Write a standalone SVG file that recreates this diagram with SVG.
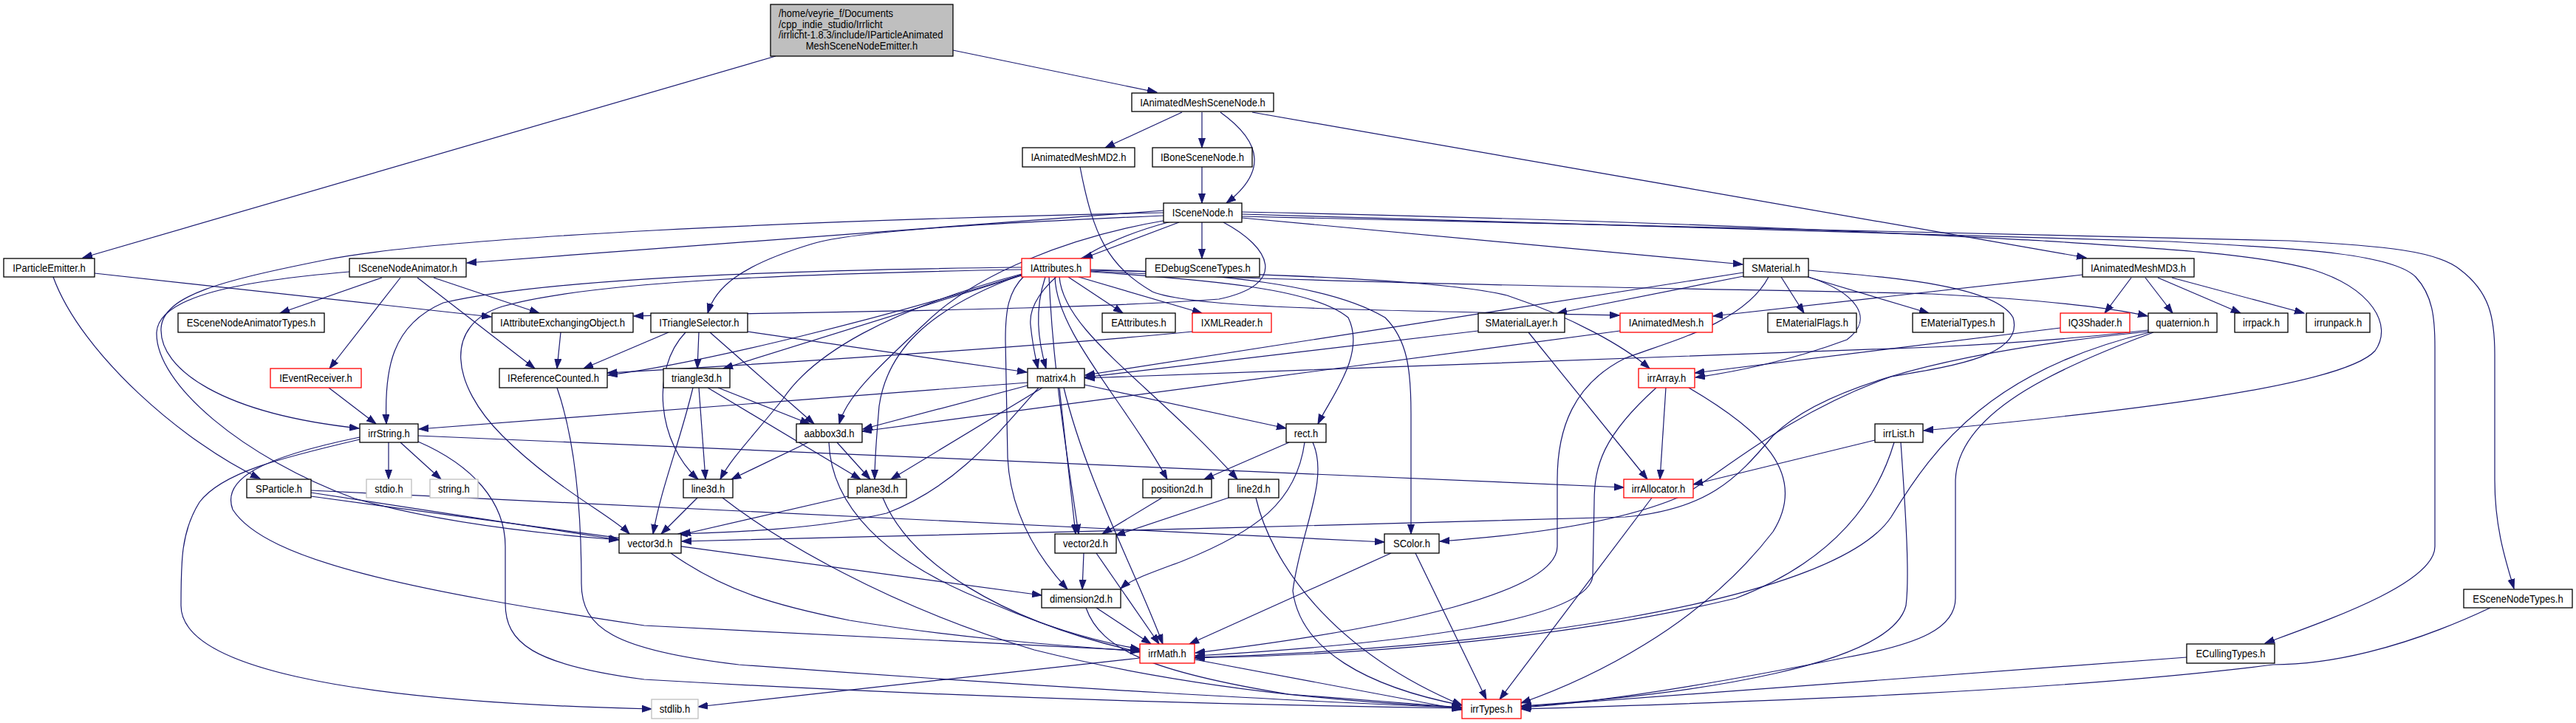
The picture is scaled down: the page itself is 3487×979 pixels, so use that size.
<svg xmlns="http://www.w3.org/2000/svg" width="3487" height="979" viewBox="0 0 3487 979">
<style>
.nd rect{fill:#fff;stroke:#000;stroke-width:1.3}
.rd rect{stroke:#f00}
.gy rect{stroke:#bfbfbf}
.rt rect{fill:#bfbfbf}
text{font-family:"Liberation Sans",Arial,sans-serif;font-size:15px;fill:#000;text-anchor:middle;transform-box:fill-box;transform-origin:center;transform:scaleX(0.87)}
.lt{text-anchor:start;transform-origin:left center}
#edges path{fill:none;stroke:#191970;stroke-width:1.2;marker-end:url(#a)}
</style>
<defs>
<marker id="a" markerWidth="14" markerHeight="11" refX="13" refY="5" orient="auto" markerUnits="userSpaceOnUse"><path d="M0,0.5 L13,5 L0,9.5 z" fill="#191970" stroke="#191970" stroke-width="1"/></marker>
</defs>
<rect width="3487" height="979" fill="#fff"/>
<g id="edges">
<path d="M1050,76 L112,349"/>
<path d="M1290,68 L1566,125"/>
<path d="M1600,152 L1496,200"/>
<path d="M1627,152 L1627,200"/>
<path d="M1652,152 C1712,195 1712,235 1660,275"/>
<path d="M1695,152 L2824,349"/>
<path d="M1627,226 L1627,275"/>
<path d="M1462,226 C1480,320 1500,360 1560,395 C1620,420 1900,420 2192,427"/>
<path d="M2819,372 L2319,428"/>
<path d="M2885,376 L2849,424"/>
<path d="M2904,376 L2941,424"/>
<path d="M2921,376 L3033,424"/>
<path d="M2940,376 L3119,424"/>
<path d="M1656,301 C1720,335 1745,385 1650,405 C1450,420 1100,422 858,428"/>
<path d="M1681,293 C2300,308 2900,318 3099,326 C3230,333 3300,340 3330,365 C3370,395 3377,430 3377,480 L3377,650 C3377,715 3392,760 3403,797"/>
<path d="M1681,290 C2300,305 2750,320 2937,327 C3130,337 3240,345 3270,375 C3293,400 3296,430 3296,470 L3296,740 C3296,790 3150,840 3066,871"/>
<path d="M1681,287 C2300,300 2600,318 2765,326 C2950,338 3060,345 3130,365 C3210,390 3240,440 3215,475 C3170,525 2850,560 2604,583"/>
<path d="M1627,301 L1627,350"/>
<path d="M1575,285 L632,356"/>
<path d="M1575,292 C1350,302 1160,312 1100,330 C1000,360 968,390 958,424"/>
<path d="M1681,295 L2359,358"/>
<path d="M1575,288 C1100,298 600,320 440,352 C300,380 220,400 218,445 C216,500 300,560 486,580"/>
<path d="M1580,298 C1450,320 1320,370 1250,440 C1180,505 1145,540 1136,574"/>
<path d="M1585,300 C1470,330 1390,390 1395,440 C1398,470 1402,485 1405,499"/>
<path d="M1596,301 L1466,350"/>
<path d="M128,370 L665,429"/>
<path d="M72,375 C110,480 250,600 352,648"/>
<path d="M517,376 L379,424"/>
<path d="M542,376 L446,499"/>
<path d="M565,376 L724,499"/>
<path d="M587,376 L730,424"/>
<path d="M473,368 C330,380 215,400 212,450 C210,520 330,620 480,675 C600,710 760,725 837,731"/>
<path d="M759,450 L754,499"/>
<path d="M445,525 L509,574"/>
<path d="M754,525 C780,600 787,700 787,790 C787,850 830,880 1000,900 C1400,930 1800,952 1978,958"/>
<path d="M1383,372 C1200,430 950,492 823,508"/>
<path d="M1476,365 C1650,370 1800,385 1875,430 C1905,460 1910,500 1910,560 L1910,723"/>
<path d="M1383,365 C1100,370 800,380 680,415 C600,440 610,520 680,590 C750,660 830,700 852,723"/>
<path d="M1420,375 C1425,500 1445,620 1460,723"/>
<path d="M1434,375 C1440,450 1560,520 1675,649"/>
<path d="M1383,371 C1200,420 1100,480 1060,540 C1020,590 990,620 975,649"/>
<path d="M1383,373 L979,499"/>
<path d="M1428,375 C1430,450 1520,540 1580,649"/>
<path d="M1476,368 C1650,380 1780,392 1825,430 C1850,480 1800,540 1784,574"/>
<path d="M1386,374 C1365,395 1361,420 1361,460 L1364,620 C1368,700 1410,760 1445,798"/>
<path d="M1415,375 C1400,420 1405,460 1416,499"/>
<path d="M1476,367 C1800,385 2400,392 2615,398 C2750,405 2850,415 2907,428"/>
<path d="M1383,372 C1250,420 1200,480 1190,550 C1186,600 1184,620 1184,649"/>
<path d="M1383,362 C1100,365 750,375 600,410 C530,440 520,500 523,574"/>
<path d="M1476,366 C1700,370 1950,378 2040,400 C2130,430 2200,470 2233,499"/>
<path d="M1460,375 L1627,424"/>
<path d="M1446,375 L1520,424"/>
<path d="M2360,374 L2108,424"/>
<path d="M2360,369 L1469,508"/>
<path d="M2411,375 L2442,424"/>
<path d="M2447,375 L2611,424"/>
<path d="M2448,375 C2510,395 2540,430 2500,460 C2420,490 2340,505 2295,511"/>
<path d="M2394,375 C2360,440 2250,465 2200,485 C2130,520 2108,580 2108,650 L2108,740 C2108,800 1900,850 1618,884"/>
<path d="M2448,366 C2550,375 2700,385 2725,430 C2740,480 2650,495 2560,510 C2420,560 2330,640 2280,670 C2180,715 2020,728 1949,733"/>
<path d="M2908,447 C2800,460 2700,466 2616,470 L1469,512"/>
<path d="M2908,449 C2700,470 2480,510 2400,590 C2350,650 2310,690 2200,700 C1800,712 1200,726 923,733"/>
<path d="M2915,450 C2780,500 2650,560 2647,650 L2647,810 C2647,850 2600,872 2500,890 C2300,930 2150,952 2060,958"/>
<path d="M2910,450 C2700,500 2620,600 2560,700 C2480,820 2000,880 1618,890"/>
<path d="M905,450 L790,499"/>
<path d="M946,450 L944,499"/>
<path d="M961,450 L1102,574"/>
<path d="M1012,449 L1390,504"/>
<path d="M928,450 C880,500 890,600 945,649"/>
<path d="M938,525 C920,600 895,660 884,723"/>
<path d="M946,525 L955,649"/>
<path d="M958,525 L1165,649"/>
<path d="M972,525 L1096,574"/>
<path d="M1391,518 L567,581"/>
<path d="M1391,522 L1168,581"/>
<path d="M1411,525 L1206,649"/>
<path d="M1406,525 C1340,600 1290,660 1200,695 C1100,718 980,721 918,723"/>
<path d="M1434,525 L1456,723"/>
<path d="M1440,525 C1470,650 1540,780 1574,872"/>
<path d="M1468,521 L1741,580"/>
<path d="M2255,525 L2247,649"/>
<path d="M2242,525 C2170,590 2158,630 2158,680 L2156,780 C2150,840 1900,872 1618,888"/>
<path d="M2286,525 C2380,580 2450,640 2400,720 C2300,850 2150,920 2059,952"/>
<path d="M526,599 L526,649"/>
<path d="M542,599 L597,649"/>
<path d="M566,590 L2198,660"/>
<path d="M487,592 C350,620 300,650 315,690 C360,760 560,800 872,847 L1543,881"/>
<path d="M487,595 C380,620 300,640 270,680 C245,720 245,760 245,820 C245,900 450,950 882,960"/>
<path d="M566,598 C640,630 684,680 684,740 L684,817 C684,870 720,900 872,920 C1300,945 1700,955 1979,959"/>
<path d="M1094,599 L990,649"/>
<path d="M1133,599 L1178,649"/>
<path d="M1122,599 C1125,680 1190,760 1350,820 C1420,850 1480,868 1543,879"/>
<path d="M1745,599 L1630,649"/>
<path d="M1766,599 C1755,680 1700,720 1600,760 C1560,775 1530,785 1517,797"/>
<path d="M1777,599 C1800,650 1760,720 1750,800 C1760,880 1850,930 1979,955"/>
<path d="M2538,596 L2292,656"/>
<path d="M2564,599 C2540,680 2480,760 2350,810 C2100,870 1800,888 1617,891"/>
<path d="M2573,599 C2580,700 2585,780 2580,820 C2560,900 2300,940 2059,956"/>
<path d="M1614,449 C1400,470 1000,495 822,505"/>
<path d="M2193,448 L1167,584"/>
<path d="M2789,444 L2294,505"/>
<path d="M2001,448 L1468,511"/>
<path d="M2069,450 L2230,649"/>
<path d="M421,667 L838,731"/>
<path d="M421,672 L1410,806"/>
<path d="M421,664 L1874,734"/>
<path d="M944,674 L895,723"/>
<path d="M978,674 C1050,730 1200,820 1400,880 C1600,930 1800,950 1979,958"/>
<path d="M1148,672 L922,724"/>
<path d="M1195,674 C1230,760 1350,840 1543,883"/>
<path d="M1573,674 L1492,723"/>
<path d="M1663,674 L1510,725"/>
<path d="M1700,674 C1720,760 1800,880 1979,955"/>
<path d="M2236,674 L2030,947"/>
<path d="M908,749 C980,800 1050,820 1150,840 C1300,865 1450,875 1543,882"/>
<path d="M1484,749 L1569,872"/>
<path d="M1467,749 L1465,798"/>
<path d="M1883,749 L1610,872"/>
<path d="M1916,749 L2012,947"/>
<path d="M1484,823 L1558,872"/>
<path d="M1470,823 C1490,880 1560,910 1744,940 L1979,958"/>
<path d="M3371,823 C3250,880 3150,900 3077,900 C2800,935 2400,950 2059,960"/>
<path d="M2960,890 L2059,957"/>
<path d="M1617,893 L1979,961"/>
<path d="M1543,891 L945,957"/>
</g>
<g id="root" class="nd rt"><rect x="1043" y="6" width="247" height="70"/><text class="lt" x="1054" y="23.5">/home/veyrie_f/Documents</text><text class="lt" x="1054" y="38">/cpp_indie_studio/Irrlicht</text><text class="lt" x="1054" y="52.5">/irrlicht-1.8.3/include/IParticleAnimated</text><text x="1166.5" y="67.5">MeshSceneNodeEmitter.h</text></g>
<g id="IAnimatedMeshSceneNode" class="nd"><rect x="1532" y="126" width="192" height="25"/><text x="1628" y="144">IAnimatedMeshSceneNode.h</text></g>
<g id="IAnimatedMeshMD2" class="nd"><rect x="1384" y="200" width="152" height="26"/><text x="1460" y="218.5">IAnimatedMeshMD2.h</text></g>
<g id="IBoneSceneNode" class="nd"><rect x="1560" y="200" width="135" height="26"/><text x="1627.5" y="218.5">IBoneSceneNode.h</text></g>
<g id="ISceneNode" class="nd"><rect x="1575" y="275" width="106" height="26"/><text x="1628" y="293.5">ISceneNode.h</text></g>
<g id="IParticleEmitter" class="nd"><rect x="5" y="350" width="123" height="25"/><text x="66.5" y="368">IParticleEmitter.h</text></g>
<g id="ISceneNodeAnimator" class="nd"><rect x="473" y="350" width="158" height="25"/><text x="552" y="368">ISceneNodeAnimator.h</text></g>
<g id="IAttributes" class="nd rd"><rect x="1383" y="350" width="93" height="25"/><text x="1429.5" y="368">IAttributes.h</text></g>
<g id="EDebugSceneTypes" class="nd"><rect x="1551" y="350" width="154" height="25"/><text x="1628" y="368">EDebugSceneTypes.h</text></g>
<g id="SMaterial" class="nd"><rect x="2360" y="350" width="88" height="25"/><text x="2404" y="368">SMaterial.h</text></g>
<g id="IAnimatedMeshMD3" class="nd"><rect x="2819" y="350" width="151" height="25"/><text x="2894.5" y="368">IAnimatedMeshMD3.h</text></g>
<g id="ESceneNodeAnimatorTypes" class="nd"><rect x="241" y="424" width="198" height="26"/><text x="340" y="442.5">ESceneNodeAnimatorTypes.h</text></g>
<g id="IAttributeExchangingObject" class="nd"><rect x="666" y="424" width="191" height="26"/><text x="761.5" y="442.5">IAttributeExchangingObject.h</text></g>
<g id="ITriangleSelector" class="nd"><rect x="881" y="424" width="131" height="26"/><text x="946.5" y="442.5">ITriangleSelector.h</text></g>
<g id="EAttributes" class="nd"><rect x="1492" y="424" width="99" height="26"/><text x="1541.5" y="442.5">EAttributes.h</text></g>
<g id="IXMLReader" class="nd rd"><rect x="1614" y="424" width="107" height="26"/><text x="1667.5" y="442.5">IXMLReader.h</text></g>
<g id="SMaterialLayer" class="nd"><rect x="2001" y="424" width="117" height="26"/><text x="2059.5" y="442.5">SMaterialLayer.h</text></g>
<g id="IAnimatedMesh" class="nd rd"><rect x="2193" y="424" width="125" height="26"/><text x="2255.5" y="442.5">IAnimatedMesh.h</text></g>
<g id="EMaterialFlags" class="nd"><rect x="2393" y="424" width="120" height="26"/><text x="2453" y="442.5">EMaterialFlags.h</text></g>
<g id="EMaterialTypes" class="nd"><rect x="2589" y="424" width="123" height="26"/><text x="2650.5" y="442.5">EMaterialTypes.h</text></g>
<g id="IQ3Shader" class="nd rd"><rect x="2789" y="424" width="94" height="26"/><text x="2836" y="442.5">IQ3Shader.h</text></g>
<g id="quaternion" class="nd"><rect x="2908" y="424" width="93" height="26"/><text x="2954.5" y="442.5">quaternion.h</text></g>
<g id="irrpack" class="nd"><rect x="3025" y="424" width="72" height="26"/><text x="3061" y="442.5">irrpack.h</text></g>
<g id="irrunpack" class="nd"><rect x="3122" y="424" width="86" height="26"/><text x="3165" y="442.5">irrunpack.h</text></g>
<g id="IEventReceiver" class="nd rd"><rect x="366" y="499" width="123" height="26"/><text x="427.5" y="517.5">IEventReceiver.h</text></g>
<g id="IReferenceCounted" class="nd"><rect x="676" y="499" width="146" height="26"/><text x="749" y="517.5">IReferenceCounted.h</text></g>
<g id="triangle3d" class="nd"><rect x="898" y="499" width="90" height="26"/><text x="943" y="517.5">triangle3d.h</text></g>
<g id="matrix4" class="nd"><rect x="1391" y="499" width="77" height="26"/><text x="1429.5" y="517.5">matrix4.h</text></g>
<g id="irrArray" class="nd rd"><rect x="2218" y="499" width="76" height="26"/><text x="2256" y="517.5">irrArray.h</text></g>
<g id="irrString" class="nd"><rect x="487" y="574" width="79" height="25"/><text x="526.5" y="592">irrString.h</text></g>
<g id="aabbox3d" class="nd"><rect x="1078" y="574" width="89" height="25"/><text x="1122.5" y="592">aabbox3d.h</text></g>
<g id="rect" class="nd"><rect x="1741" y="574" width="54" height="25"/><text x="1768" y="592">rect.h</text></g>
<g id="irrList" class="nd"><rect x="2538" y="574" width="65" height="25"/><text x="2570.5" y="592">irrList.h</text></g>
<g id="SParticle" class="nd"><rect x="334" y="649" width="87" height="25"/><text x="377.5" y="667">SParticle.h</text></g>
<g id="stdio" class="nd gy"><rect x="496" y="649" width="61" height="25"/><text x="526.5" y="667">stdio.h</text></g>
<g id="string" class="nd gy"><rect x="582" y="649" width="65" height="25"/><text x="614.5" y="667">string.h</text></g>
<g id="line3d" class="nd"><rect x="925" y="649" width="67" height="25"/><text x="958.5" y="667">line3d.h</text></g>
<g id="plane3d" class="nd"><rect x="1148" y="649" width="79" height="25"/><text x="1187.5" y="667">plane3d.h</text></g>
<g id="position2d" class="nd"><rect x="1547" y="649" width="93" height="25"/><text x="1593.5" y="667">position2d.h</text></g>
<g id="line2d" class="nd"><rect x="1663" y="649" width="68" height="25"/><text x="1697" y="667">line2d.h</text></g>
<g id="irrAllocator" class="nd rd"><rect x="2198" y="649" width="94" height="25"/><text x="2245" y="667">irrAllocator.h</text></g>
<g id="vector3d" class="nd"><rect x="838" y="723" width="84" height="26"/><text x="880" y="741.5">vector3d.h</text></g>
<g id="vector2d" class="nd"><rect x="1428" y="723" width="83" height="26"/><text x="1469.5" y="741.5">vector2d.h</text></g>
<g id="SColor" class="nd"><rect x="1874" y="723" width="74" height="26"/><text x="1911" y="741.5">SColor.h</text></g>
<g id="dimension2d" class="nd"><rect x="1410" y="798" width="107" height="25"/><text x="1463.5" y="816">dimension2d.h</text></g>
<g id="ESceneNodeTypes" class="nd"><rect x="3335" y="798" width="147" height="25"/><text x="3408.5" y="816">ESceneNodeTypes.h</text></g>
<g id="irrMath" class="nd rd"><rect x="1543" y="872" width="74" height="26"/><text x="1580" y="890.5">irrMath.h</text></g>
<g id="ECullingTypes" class="nd"><rect x="2960" y="872" width="119" height="26"/><text x="3019.5" y="890.5">ECullingTypes.h</text></g>
<g id="stdlib" class="nd gy"><rect x="882" y="947" width="63" height="26"/><text x="913.5" y="965.5">stdlib.h</text></g>
<g id="irrTypes" class="nd rd"><rect x="1979" y="947" width="80" height="26"/><text x="2019" y="965.5">irrTypes.h</text></g>
</svg>
